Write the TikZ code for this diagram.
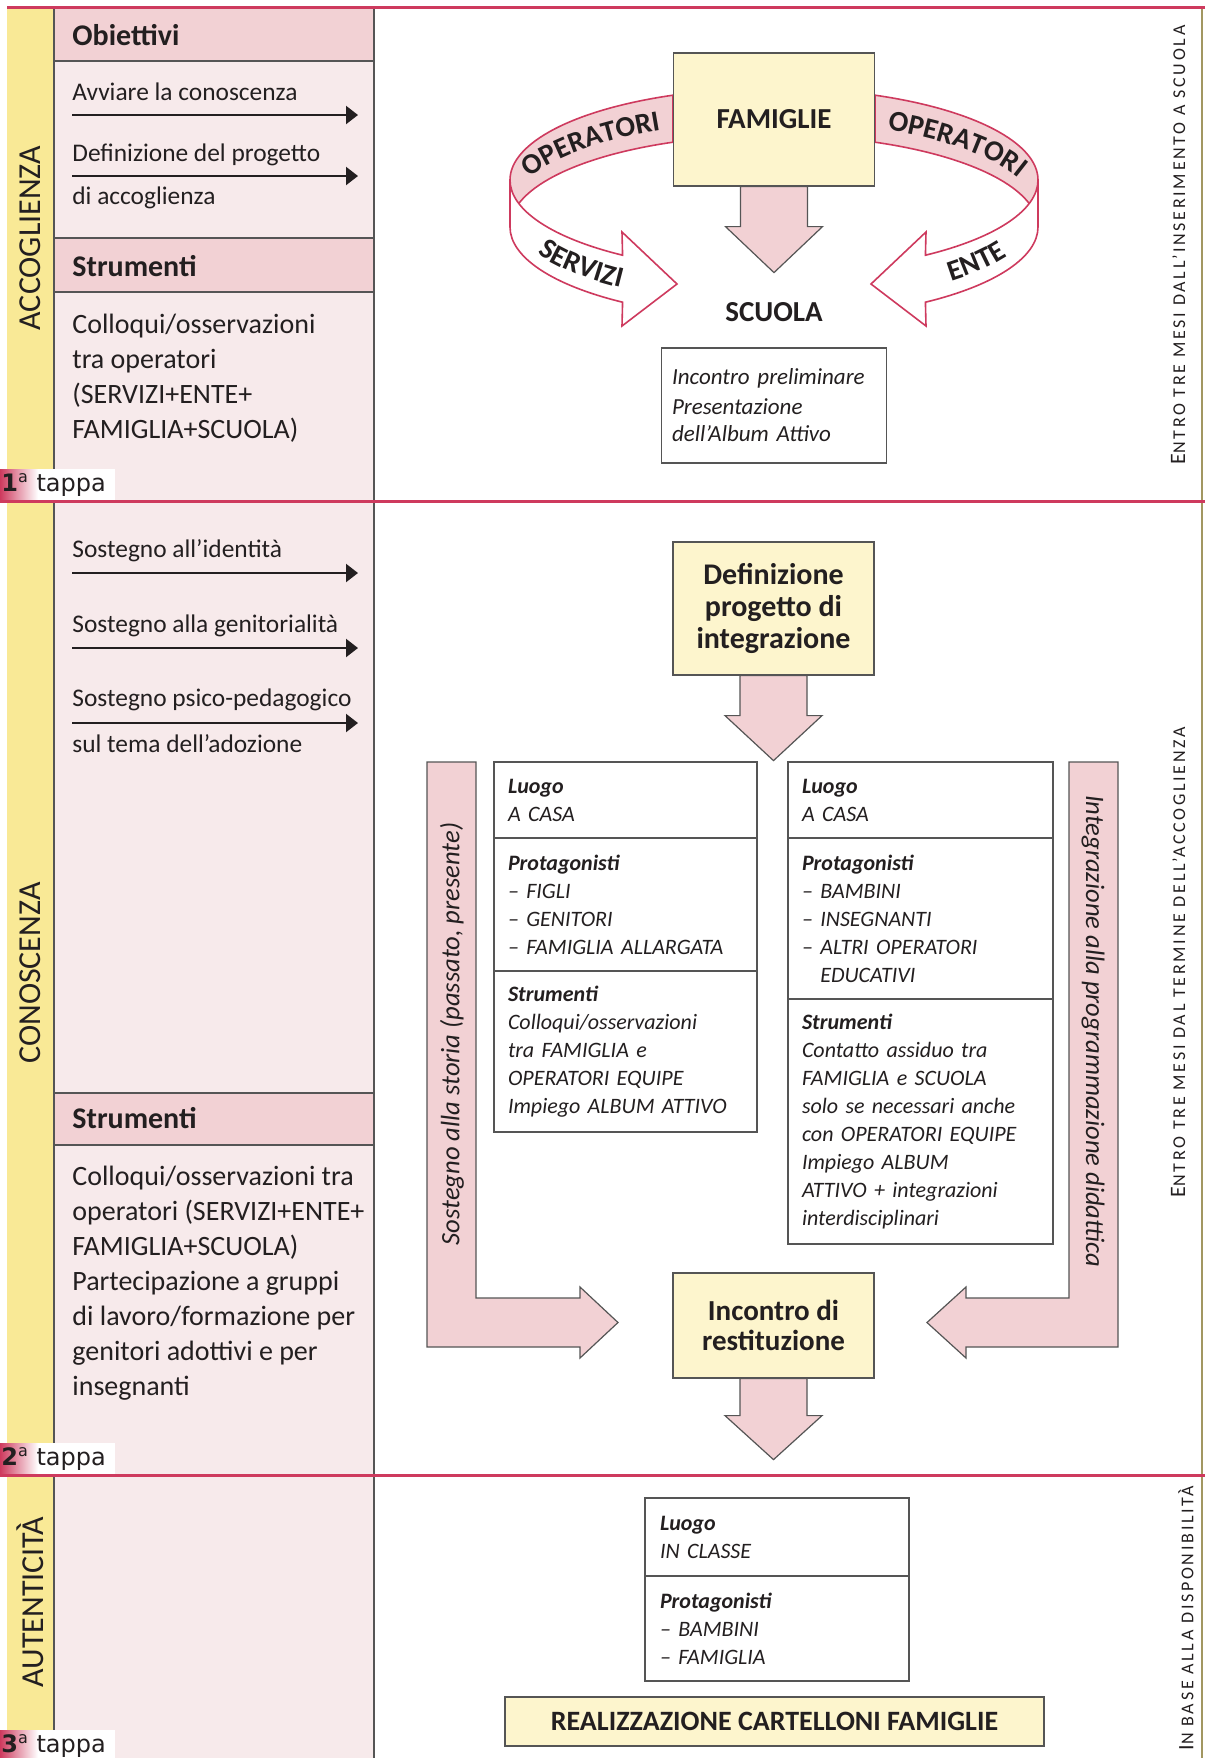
\documentclass[tikz,border=0pt]{standalone}
\usepackage{fontspec}
\setmainfont{Carlito}
\newfontfamily\tappafont{DejaVu Sans}
\newfontfamily\capsfont[LetterSpace=15]{Carlito}
\usetikzlibrary{positioning,calc,arrows.meta,decorations.text}
\definecolor{bandred}{RGB}{206,58,94}
\definecolor{stripyellow}{RGB}{249,233,150}
\definecolor{colpink}{RGB}{247,234,235}
\definecolor{hdrpink}{RGB}{242,209,212}
\definecolor{boxyellow}{RGB}{253,245,205}
\definecolor{edgegray}{RGB}{85,85,85}
\definecolor{ink}{RGB}{35,31,32}
\newcommand{\famfont}{\fontsize{14.5}{16}\selectfont\bfseries}
\newcommand{\deffont}{\fontsize{15}{16}\selectfont\bfseries}
\newcommand{\restfont}{\fontsize{14.5}{15}\selectfont\bfseries}
\newcommand{\ribfont}{\fontsize{14.5}{15}\selectfont\bfseries}
\tikzset{
  hdr/.style         = {fill=hdrpink, draw=edgegray, line width=0.6pt},
  hdrtext/.style     = {font=\fontsize{15}{18}\selectfont\bfseries, anchor=base west, inner sep=0pt, text=ink},
  body/.style        = {font=\fontsize{12.7}{15}\selectfont, anchor=base west, inner sep=0pt, text=ink},
  bodyl/.style       = {font=\fontsize{14}{17}\selectfont, anchor=base west, inner sep=0pt, text=ink},
  objarrow/.style    = {-{Triangle[length=6pt,width=9pt]}, line width=1.1pt, draw=ink},
  sepline/.style     = {draw=bandred, line width=1.5pt},
  phase/.style       = {rotate=90, font=\fontsize{16}{16}\selectfont, text=ink, inner sep=0pt},
  spantext/.style    = {rotate=90, text=ink, inner sep=0pt},
  tappatext/.style   = {font=\tappafont\fontsize{12}{12}\selectfont, anchor=west, inner sep=0pt, text=ink},
  ybox/.style        = {draw=edgegray, fill=boxyellow, line width=0.6pt, align=center, text=ink},
  wbox/.style        = {draw=edgegray, fill=white, line width=0.6pt, align=left, text=ink, font=\fontsize{11.5}{13.5}\selectfont\itshape},
  cell/.style        = {draw=edgegray, fill=white, line width=0.6pt, anchor=north west, align=left, outer sep=0pt,
                        inner xsep=7pt, inner ysep=0pt, text=ink, font=\fontsize{11}{14}\selectfont\itshape},
  blockarrow/.style  = {draw=edgegray, fill=hdrpink, line width=0.6pt},
  ribbonback/.style  = {draw=bandred, fill=hdrpink, line width=0.8pt},
  ribbonfront/.style = {draw=bandred, fill=white, line width=0.8pt},
  bartext/.style     = {font=\fontsize{13.3}{14}\selectfont\itshape, text=ink, inner sep=0pt},
}
% node, shaft half width, head half width, shaft length, head length
\newcommand{\blockdown}[5]{%
  \draw[blockarrow] ($(#1.south)+(-#2,0)$) -- ++(0,#4) -- ++({#2-#3},0) -- ++(#3,#5)
    -- ++(#3,-#5) -- ++({#2-#3},0) -- ++(0,-#4) -- cycle;%
}
% start angle, end angle, text
\newcommand{\ribbontext}[3]{%
  \path[decorate, decoration={text along path, text align=center, text color=ink, text={|\ribfont|#3}}]
    ($(774,213)+(#1:264 and 91.8)$) arc[start angle=#1, end angle=#2, x radius=264, y radius=91.8];%
}
\newcommand{\tappa}[1]{{\bfseries #1}\textsuperscript{a} tappa}
\newcommand{\spanlabel}[2]{{\fontsize{11}{11}\selectfont #1}{\capsfont\fontsize{9}{9}\selectfont #2}}

\begin{document}
\begin{tikzpicture}[x=0.5pt,y=-0.5pt]
  \useasboundingbox (0,0) rectangle (1205,1758);
  \fill[white] (0,0) rectangle (1205,1758);

  % ---------- left column ----------
  \fill[stripyellow] (7,7) rectangle (54,1758);
  \fill[colpink] (54,7) rectangle (374,1758);
  \draw[hdr] (54,7) rectangle (374,61);
  \draw[hdr] (54,238) rectangle (374,292);
  \draw[hdr] (54,1093) rectangle (374,1145);
  \draw[edgegray, line width=0.7pt] (54,7) -- (54,1758);
  \draw[edgegray, line width=0.6pt] (374,7) -- (374,1758);
  \draw[black!35!stripyellow, line width=0.8pt] (1202,7) -- (1202,1758);

  \node[phase] (accoglienza) at (30,238) {ACCOGLIENZA};
  \node[phase] (conoscenza) at (30,973) {CONOSCENZA};
  \node[phase] (autenticita) at (30,1602) {AUTENTICITÀ};

  % 1a tappa
  \node[hdrtext] (obiettivi) at (72,45) {Obiettivi};
  \foreach \y/\t [count=\i] in {100/{Avviare la conoscenza}, 161/{Definizione del progetto}, 204/{di accoglienza}}
    \node[body] (obj\i) at (72,\y) {\t};
  \foreach \y in {115,176}
    \draw[objarrow] (72,\y) -- (358,\y);
  \node[hdrtext] (strum1) at (72,276) {Strumenti};
  \foreach \y/\t [count=\i] in {333/{Colloqui/osservazioni}, 368/{tra operatori}, 403/{(SERVIZI+ENTE+}, 438/{FAMIGLIA+SCUOLA)}}
    \node[bodyl] (coll\i) at (72,\y) {\t};

  % 2a tappa
  \foreach \y/\t [count=\i] in {557/{Sostegno all’identità}, 632/{Sostegno alla genitorialità}, 706/{Sostegno psico-pedagogico}, 752/{sul tema dell’adozione}}
    \node[body] (sost\i) at (72,\y) {\t};
  \foreach \y in {573,648,723}
    \draw[objarrow] (72,\y) -- (358,\y);
  \node[hdrtext] (strum2) at (72,1128) {Strumenti};
  \foreach \t [count=\i] in {{Colloqui/osservazioni tra}, {operatori (SERVIZI+ENTE+}, {FAMIGLIA+SCUOLA)}, {Partecipazione a gruppi}, {di lavoro/formazione per}, {genitori adottivi e per}, {insegnanti}}
    \node[bodyl] (str\i) at (72,{1151+34.9*\i}) {\t};

  % tappa labels
  \foreach \n/\y in {1/469, 2/1443, 3/1730} {
    \fill[white] (0,\y) rectangle (115,\y+31);
    \shade[left color=bandred, right color=white] (0,\y) rectangle (38,\y+31);
    \node[tappatext] (tappa\n) at (1,\y+16) {\tappa{\n}};
  }

  % ---------- section lines and time spans ----------
  \draw[sepline] (7,7) -- (1205,7);
  \draw[sepline] (0,501) -- (1205,501);
  \draw[sepline] (0,1475) -- (1205,1475);
  \node[spantext] (span1) at (1178,245) {\spanlabel{E}{NTRO TRE MESI DALL’INSERIMENTO A SCUOLA}};
  \node[spantext] (span2) at (1178,962) {\spanlabel{E}{NTRO TRE MESI DAL TERMINE DELL’ACCOGLIENZA}};
  \node[spantext] (span3) at (1186,1618) {\spanlabel{I}{N BASE ALLA DISPONIBILITÀ}};

  % ---------- ribbon round FAMIGLIE ----------
  \draw[ribbonback] ($(774,180)+(-112.5:264 and 91.8)$) arc[start angle=-112.5, end angle=-180, x radius=264, y radius=91.8]
    -- ++(0,47) arc[start angle=-180, end angle=-112.5, x radius=264, y radius=91.8] -- cycle;
  \draw[ribbonback] ($(774,180)+(-67.5:264 and 91.8)$) arc[start angle=-67.5, end angle=0, x radius=264, y radius=91.8]
    -- ++(0,47) arc[start angle=0, end angle=-67.5, x radius=264, y radius=91.8] -- cycle;
  \draw[ribbonfront] ($(774,180)+(180:264 and 91.8)$) arc[start angle=180, end angle=125, x radius=264, y radius=91.8]
    -- (622,232) -- (677,284) -- (622,326) -- ($(774,227)+(125:264 and 91.8)$)
    arc[start angle=125, end angle=180, x radius=264, y radius=91.8] -- cycle;
  \draw[ribbonfront] ($(774,180)+(0:264 and 91.8)$) arc[start angle=0, end angle=55, x radius=264, y radius=91.8]
    -- (926,232) -- (871,284) -- (926,326) -- ($(774,227)+(55:264 and 91.8)$)
    arc[start angle=55, end angle=0, x radius=264, y radius=91.8] -- cycle;
  \ribbontext{-177}{-107}{OPERATORI}
  \ribbontext{-73}{-3}{OPERATORI}
  \ribbontext{175}{115}{SERVIZI}
  \ribbontext{56}{14}{ENTE}

  \node[ybox, font=\famfont, minimum width=100.5pt, minimum height=66.5pt] (famiglie) at (774,119.5) {FAMIGLIE};
  \blockdown{famiglie}{33.5}{48.5}{40}{46}
  \node[font=\famfont, text=ink, inner sep=0pt] (scuola) at (774,312) {SCUOLA};
  \node[wbox, text width=102pt, inner xsep=5.3pt, minimum height=57.5pt] (prelim) at (774,405.5)
    {Incontro preliminare\\[1.5pt]Presentazione\\dell’Album Attivo};

  % ---------- progetto di integrazione ----------
  \node[ybox, font=\deffont, minimum width=100.5pt, minimum height=66.5pt] (defin) at (773.5,608.5) {Definizione\\progetto di\\integrazione};
  \blockdown{defin}{33.5}{48.5}{40}{45}

  \draw[blockarrow] (427,762) -- (476,762) -- (476,1298) -- (580,1298) -- (580,1287) -- (618,1322.5)
    -- (580,1358) -- (580,1347) -- (427,1347) -- cycle;
  \draw[blockarrow] (1118,762) -- (1069,762) -- (1069,1298) -- (966,1298) -- (966,1287) -- (927,1322.5)
    -- (966,1358) -- (966,1347) -- (1118,1347) -- cycle;
  \node[bartext, rotate=90] (storia) at (452,1034) {Sostegno alla storia (passato, presente)};
  \node[bartext, rotate=-90] (didattica) at (1093,1031) {Integrazione alla programmazione didattica};

  \node[cell, text width=117.5pt, minimum height=38pt] (casaL) at (494,762) {\textbf{Luogo}\\A CASA};
  \node[cell, text width=117.5pt, minimum height=66.5pt, below=0pt of casaL] (protL)
    {\textbf{Protagonisti}\\– FIGLI\\– GENITORI\\– FAMIGLIA ALLARGATA};
  \node[cell, text width=117.5pt, minimum height=80.5pt, below=0pt of protL] (strumL)
    {\textbf{Strumenti}\\Colloqui/osservazioni\\tra FAMIGLIA e\\OPERATORI EQUIPE\\Impiego ALBUM ATTIVO};

  \node[cell, text width=118.5pt, minimum height=38pt] (casaR) at (788,762) {\textbf{Luogo}\\A CASA};
  \node[cell, text width=118.5pt, minimum height=80.5pt, below=0pt of casaR] (protR)
    {\textbf{Protagonisti}\\– BAMBINI\\– INSEGNANTI\\– ALTRI OPERATORI\\\phantom{– }EDUCATIVI};
  \node[cell, text width=118.5pt, minimum height=122.5pt, below=0pt of protR] (strumR)
    {\textbf{Strumenti}\\Contatto assiduo tra\\FAMIGLIA e SCUOLA\\solo se necessari anche\\con OPERATORI EQUIPE\\Impiego ALBUM\\ATTIVO + integrazioni\\interdisciplinari};

  \node[ybox, font=\restfont, minimum width=100.5pt, minimum height=52.5pt] (restit) at (773.5,1325.5) {Incontro di\\restituzione};
  \blockdown{restit}{33.5}{48.5}{37}{44}

  % ---------- 3a tappa ----------
  \node[cell, text width=117pt, inner xsep=7.5pt, minimum height=39pt] (classe) at (645,1498) {\textbf{Luogo}\\IN CLASSE};
  \node[cell, text width=117pt, inner xsep=7.5pt, minimum height=52.5pt, below=0pt of classe] (protC)
    {\textbf{Protagonisti}\\– BAMBINI\\– FAMIGLIA};
  \node[ybox, font=\fontsize{14}{16}\selectfont\bfseries, minimum width=269.5pt, minimum height=24.5pt] (cartelloni)
    at (774.5,1721.5) {REALIZZAZIONE CARTELLONI FAMIGLIE};
\end{tikzpicture}
\end{document}
